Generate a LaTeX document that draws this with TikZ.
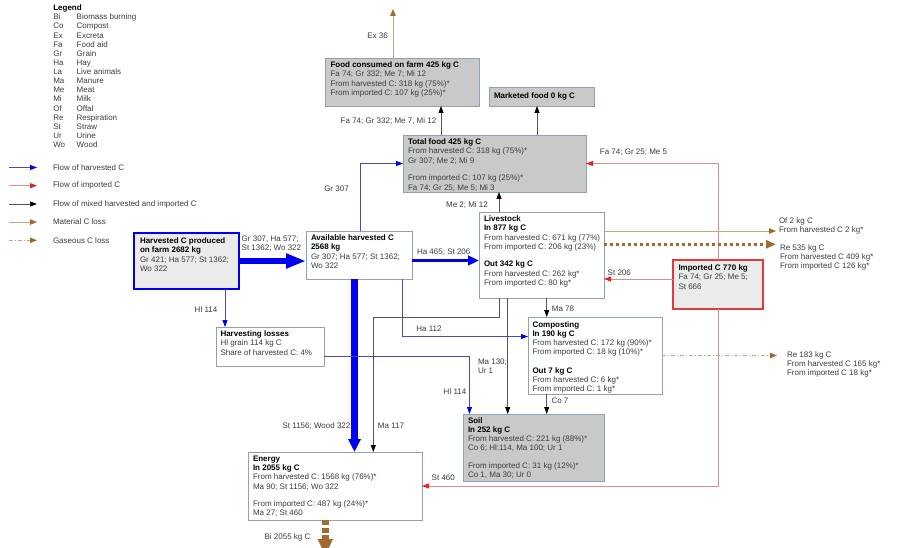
\documentclass[tikz,border=0pt]{standalone}
\usepackage{fontspec}
\setmainfont{Liberation Sans}
\usetikzlibrary{arrows.meta,calc}

\definecolor{boxline}{HTML}{8EA3B5}
\definecolor{greyfill}{HTML}{C9C9C9}
\definecolor{palefill}{HTML}{EBEBEB}
\definecolor{txtc}{HTML}{3C3C3C}
\definecolor{harvblue}{HTML}{0000F0}
\definecolor{harvthin}{HTML}{4B4BB8}
\definecolor{impline}{HTML}{E88A8A}
\definecolor{imphead}{HTML}{E52222}
\definecolor{impbox}{HTML}{E23A3A}
\definecolor{mixline}{HTML}{555555}
\definecolor{lossline}{HTML}{BCA88C}
\definecolor{losshead}{HTML}{A06A30}

\newcommand\boxhead[1]{{\color{black}\bfseries #1}}

\tikzset{
  every node/.style={font=\fontsize{8}{9.2}\selectfont, text=txtc, inner sep=0pt, outer sep=0pt},
  flowbox/.style={draw=boxline, line width=0.9pt, fill=white, anchor=north west},
  greybox/.style={flowbox, fill=greyfill},
  boxtext/.style={anchor=north west, align=left},
  legtext/.style={boxtext, font=\fontsize{8}{9.14}\selectfont},
  lbl/.style={align=left},
  thinharv/.style={draw=harvthin, line width=0.8pt, -{Triangle[length=7pt,width=5pt,color=harvblue]}},
  midharv/.style={draw=harvblue, line width=3pt, -{Triangle[length=11pt,width=9.5pt]}},
  bigharv/.style={draw=harvblue, line width=6.5pt, -{Triangle[length=20pt,width=14pt]}},
  mixflow/.style={draw=mixline, line width=0.8pt, -{Triangle[length=7pt,width=5pt,color=black]}},
  impflow/.style={draw=impline, line width=0.8pt, -{Triangle[length=7pt,width=5pt,color=imphead]}},
  matloss/.style={draw=lossline, line width=0.9pt, -{Triangle[length=7pt,width=5.5pt,color=losshead]}},
  gasloss/.style={draw=losshead, line width=2.8pt, dash pattern=on 3pt off 3pt, -{Triangle[length=10pt,width=8pt]}},
  gasthin/.style={draw=lossline, line width=0.8pt, dash pattern=on 4pt off 2pt on 1pt off 2pt, -{Triangle[length=7pt,width=5.5pt,color=losshead]}},
  burnloss/.style={draw=losshead, line width=7pt, dash pattern=on 5pt off 2.5pt, -{Triangle[length=17pt,width=14pt]}},
}

\begin{document}
\begin{tikzpicture}[x=1pt,y=-1pt]
\useasboundingbox (0,0) rectangle (899,548);
\fill[white] (0,0) rectangle (899,548);

% ---------- legend ----------
\node[legtext] (legA) at (53.3,4.8) {\boxhead{Legend}\\Bi\\Co\\Ex\\Fa\\Gr\\Ha\\La\\Ma\\Me\\Mi\\Of\\Re\\St\\Ur\\Wo};
\node[legtext] (legB) at (76.7,4.8) {\boxhead{\phantom{Legend}}\\Biomass burning\\Compost\\Excreta\\Food aid\\Grain\\Hay\\Live animals\\Manure\\Meat\\Milk\\Offal\\Respiration\\Straw\\Urine\\Wood};

\foreach \nm/\yy/\txt in {lh/167.5/Flow of harvested C, li/185.7/Flow of imported C,
    lm/204/Flow of mixed harvested and imported C, ll/222/Material C loss, lg/240.3/Gaseous C loss}{
  \coordinate (\nm-a) at (9,\yy);
  \coordinate (\nm-b) at (37,\yy);
  \node[anchor=west] (\nm-t) at (53,\yy) {\txt};
}
\draw[thinharv] (lh-a) -- (lh-b);
\draw[impflow] (li-a) -- (li-b);
\draw[mixflow] (lm-a) -- (lm-b);
\draw[matloss] (ll-a) -- (ll-b);
\draw[gasthin] (lg-a) -- (lg-b);

% ---------- boxes ----------
\node[flowbox, draw=harvblue, line width=2.6pt, fill=palefill, minimum width=105pt, minimum height=56pt] (harv) at (134,233) {};
\node[flowbox, minimum width=106pt, minimum height=48pt] (avail) at (306,231) {};
\node[flowbox, minimum width=108pt, minimum height=39pt] (loss) at (216,327) {};
\node[greybox, minimum width=154pt, minimum height=48pt] (food) at (325,58) {};
\node[greybox, minimum width=105pt, minimum height=19pt] (market) at (489,87) {};
\node[greybox, minimum width=183pt, minimum height=57pt] (total) at (403,135) {};
\node[flowbox, minimum width=125pt, minimum height=86pt] (live) at (479,212) {};
\node[flowbox, minimum width=134pt, minimum height=77pt] (comp) at (528,317) {};
\node[greybox, minimum width=141pt, minimum height=67pt] (soil) at (463,414) {};
\node[flowbox, minimum width=174pt, minimum height=68pt] (energy) at (248,452) {};
\node[flowbox, draw=impbox, line width=2.6pt, fill=palefill, minimum width=90pt, minimum height=49pt] (imp) at (673,260) {};

% ---------- box texts ----------
\node[boxtext] (harv-t) at ([shift={(6pt,-5pt)}]harv.north west)
  {\boxhead{Harvested C produced}\\\boxhead{on farm 2682 kg}\\Gr 421; Ha 577; St 1362;\\Wo 322};
\node[boxtext] (avail-t) at ([shift={(5pt,-4pt)}]avail.north west)
  {\boxhead{Available harvested C}\\\boxhead{2568 kg}\\Gr 307; Ha 577; St 1362;\\Wo 322};
\node[boxtext] (loss-t) at ([shift={(4.5pt,-4pt)}]loss.north west)
  {\boxhead{Harvesting losses}\\Hl grain 114 kg C\\Share of harvested C: 4\%};
\node[boxtext] (food-t) at ([shift={(5.5pt,-4pt)}]food.north west)
  {\boxhead{Food consumed on farm 425 kg C}\\Fa 74; Gr 332; Me 7; Mi 12\\From harvested C: 318 kg (75\%)*\\From imported C: 107 kg (25\%)*};
\node[anchor=west] (market-t) at ([xshift=5pt]market.west) {\boxhead{Marketed food 0 kg C}};
\node[boxtext] (total-t) at ([shift={(5pt,-4pt)}]total.north west)
  {\boxhead{Total food 425 kg C}\\From harvested C: 318 kg (75\%)*\\Gr 307; Me 2; Mi 9\\[8.6pt]From imported C: 107 kg (25\%)*\\Fa 74; Gr 25; Me 5; Mi 3};
\node[boxtext] (live-t) at ([shift={(5pt,-4pt)}]live.north west)
  {\boxhead{Livestock}\\\boxhead{In 877 kg C}\\From harvested C: 671 kg (77\%)\\From imported C: 206 kg (23\%)\\[8.3pt]\boxhead{Out 342 kg C}\\From harvested C: 262 kg*\\From imported C: 80 kg*};
\node[boxtext] (comp-t) at ([shift={(4.5pt,-4.5pt)}]comp.north west)
  {\boxhead{Composting}\\\boxhead{In 190 kg C}\\From harvested C: 172 kg (90\%)*\\From imported C: 18 kg (10\%)*\\[9.5pt]\boxhead{Out 7 kg C}\\From harvested C: 6 kg*\\From imported C: 1 kg*};
\node[boxtext] (soil-t) at ([shift={(5pt,-3.5pt)}]soil.north west)
  {\boxhead{Soil}\\\boxhead{In 252 kg C}\\From harvested C: 221 kg (88\%)*\\Co 6; Hl:114, Ma 100; Ur 1\\[8.3pt]From imported C: 31 kg (12\%)*\\Co 1, Ma 30; Ur 0};
\node[boxtext] (energy-t) at ([shift={(5pt,-4pt)}]energy.north west)
  {\boxhead{Energy}\\\boxhead{In 2055 kg C}\\From harvested C: 1568 kg (76\%)*\\Ma 90; St 1156; Wo 322\\[8.3pt]From imported C: 487 kg (24\%)*\\Ma 27; St 460};
\node[boxtext] (imp-t) at ([shift={(5.5pt,-5pt)}]imp.north west)
  {\boxhead{Imported C 770 kg}\\Fa 74; Gr 25; Me 5;\\St 666};

% ---------- free ends and bends ----------
\coordinate (exEnd) at (393,9);
\coordinate (ofEnd) at (776,231);
\coordinate (reLEnd) at (776,244.3);
\coordinate (reCEnd) at (777,355.5);
\coordinate (biEnd) at (325.3,556);
\coordinate (maBend) at (373.3,317.7);

% ---------- connectors ----------
% harvested carbon
\draw[bigharv] (harv.east) -- (harv.east -| avail.west);
\draw[midharv] ([yshift=-5.5pt]avail.east) -- ([yshift=-5.5pt]avail.east -| live.west);
\draw[thinharv] ([xshift=54pt]avail.north west) |- (total.west);
\draw[bigharv, -{Triangle[length=13pt,width=12pt]}] ([xshift=48.5pt]avail.south west) -- ([xshift=48.5pt]avail.south west |- energy.north);
\draw[thinharv] ([xshift=96pt]avail.south west) |- ([yshift=-19.5pt]comp.north west);
\draw[thinharv] ([xshift=91pt]harv.south west) -- ([xshift=91pt]harv.south west |- loss.north);
\draw[thinharv] ([yshift=-9.5pt]loss.east) -| ([xshift=6.5pt]soil.north west);

% mixed carbon
\draw[mixflow] ([xshift=20pt]live.north west) -- ([xshift=20pt]live.north west |- total.south);
\draw[mixflow] ([xshift=38pt]total.north west) -- ([xshift=38pt]total.north west |- food.south);
\draw[mixflow] ([xshift=134pt]total.north west) -- ([xshift=134pt]total.north west |- market.south);
\draw[mixflow] ([xshift=20pt]live.south west) |- (maBend) -- (maBend |- energy.north);
\draw[mixflow] ([xshift=28.7pt]live.south west) -- ([xshift=28.7pt]live.south west |- soil.north);
\draw[mixflow] ([xshift=67.7pt]live.south west) -- ([xshift=67.7pt]live.south west |- comp.north);
\draw[mixflow] ([xshift=18.7pt]comp.south west) -- ([xshift=18.7pt]comp.south west |- soil.north);

% imported carbon
\draw[impflow] ([yshift=5.5pt]imp.west) -- ([yshift=5.5pt]imp.west -| live.east);
\draw[impflow] ([xshift=45pt]imp.north west) |- (total.east);
\draw[impflow] ([xshift=45pt]imp.south west) |- (energy.east);

% losses
\draw[matloss] ([xshift=68pt]food.north west) -- (exEnd);
\draw[matloss] ([yshift=-19pt]live.north east) -- (ofEnd);
\draw[gasloss] ([yshift=-32.3pt]live.north east) -- (reLEnd);
\draw[gasthin] (comp.east) -- (reCEnd);
\draw[burnloss] ([xshift=77.3pt]energy.south west) -- (biEnd);

% ---------- connector labels ----------
\node[lbl, anchor=west] (l-harv) at (241.7,243.8) {Gr 307, Ha 577;\\St 1362; Wo 322};
\node (l-ha465) at (443.7,252.3) {Ha 465; St 206};
\node (l-gr307) at (336.5,189) {Gr 307};
\node (l-food) at (388.5,121) {Fa 74; Gr 332; Me 7, Mi 12};
\node (l-me2) at (467,205) {Me 2; Mi 12};
\node (l-ex) at (377.5,36) {Ex 36};
\node (l-hl1) at (206,310) {Hl 114};
\node (l-hl2) at (455,392) {Hl 114};
\node (l-ha112) at (429,329) {Ha 112};
\node (l-ma117) at (391,426) {Ma 117};
\node (l-st1156) at (316.5,426) {St 1156; Wood 322};
\node[lbl, anchor=north west] (l-ma130) at (478,359) {Ma 130;\\Ur 1};
\node (l-ma78) at (563,308.5) {Ma 78};
\node (l-co7) at (560,401) {Co 7};
\node (l-st206) at (619.3,272.3) {St 206};
\node (l-fa74) at (633.5,152) {Fa 74; Gr 25; Me 5};
\node (l-st460) at (443.3,477.7) {St 460};
\node (l-bi) at (287.5,537) {Bi 2055 kg C};
\node[lbl, anchor=north west] (l-of) at (779,217.5) {Of 2 kg C\\From harvested C 2 kg*};
\node[lbl, anchor=north west] (l-re535) at (780,244.5) {Re 535 kg C\\From harvested C 409 kg*\\From imported C 126 kg*};
\node[lbl, anchor=north west] (l-re183) at (787,351.5) {Re 183 kg C\\From harvested C 165 kg*\\From imported C 18 kg*};
\end{tikzpicture}
\end{document}
